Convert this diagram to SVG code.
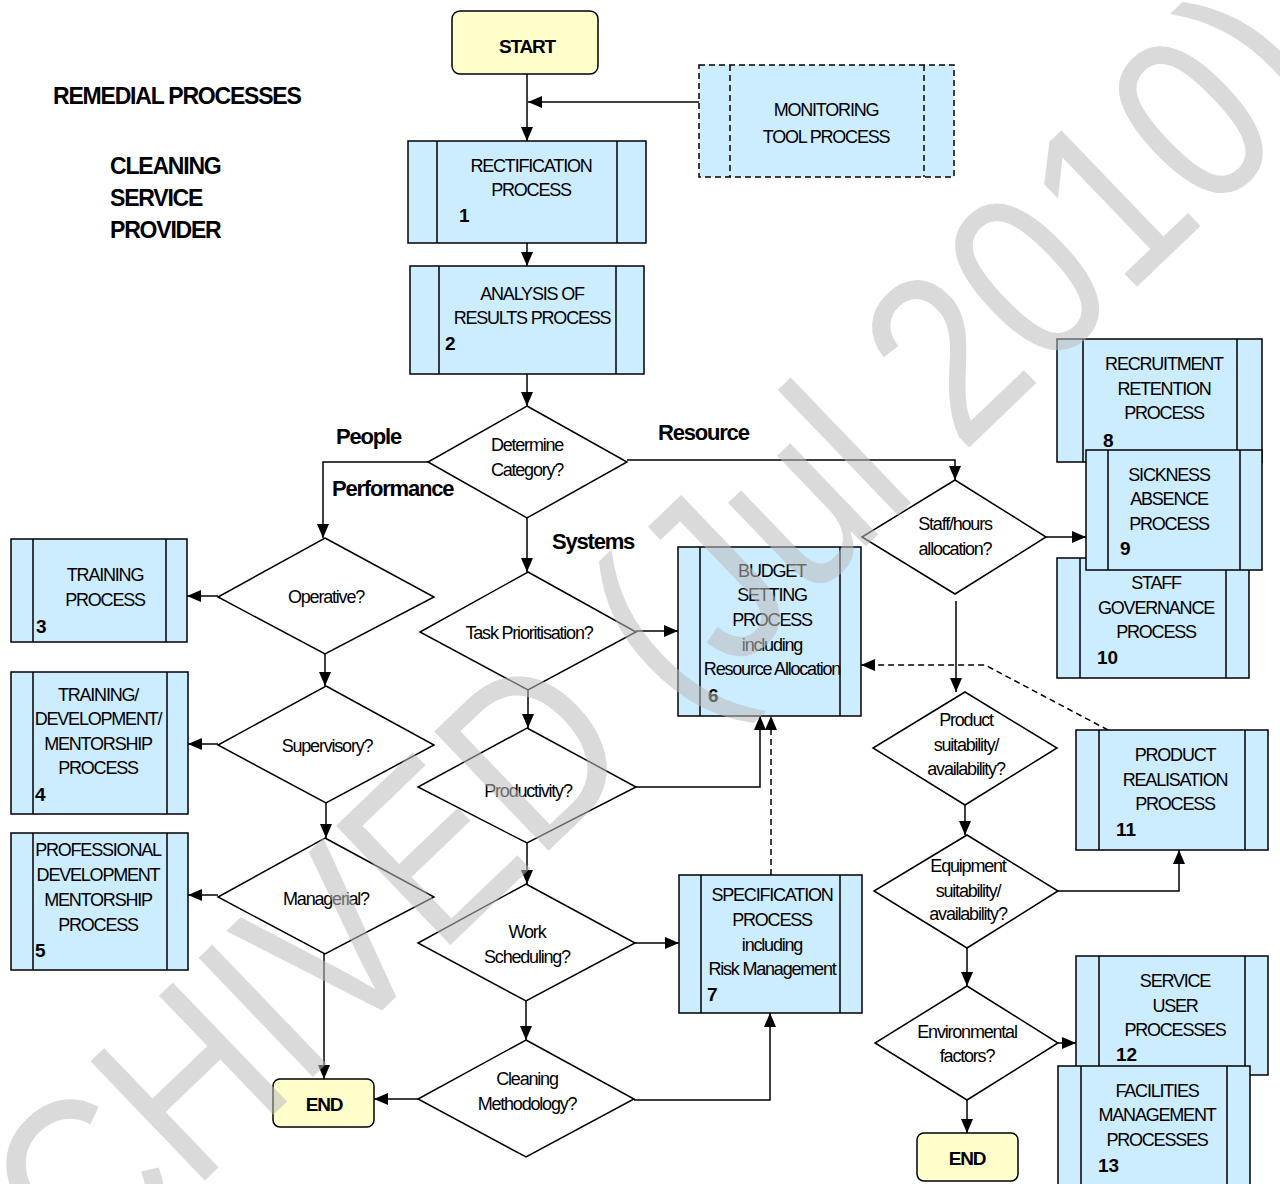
<svg xmlns="http://www.w3.org/2000/svg" width="1280" height="1184" viewBox="0 0 1280 1184">
<style>
.box{fill:#CCECFF;stroke:#000;stroke-width:1.5}
.term{fill:#FFFFCC;stroke:#000;stroke-width:1.5}
.dia{fill:#fff;stroke:#000;stroke-width:1.5}
.ln{fill:none;stroke:#000;stroke-width:1.5}
.dash{stroke-dasharray:6 4}
text{font-family:"Liberation Sans",Arial,sans-serif;fill:#000}
.t{font-size:18px;letter-spacing:-1.2px;text-anchor:middle}
.n{font-size:19px;font-weight:bold}
.b{font-size:19px;font-weight:bold;letter-spacing:-1.2px;text-anchor:middle}
.lbl{font-size:22px;font-weight:bold;letter-spacing:-1.2px}
.ttl{font-size:23px;font-weight:bold;letter-spacing:-1.2px}
.c{fill:none;stroke:#000;stroke-width:1.5;marker-end:url(#ah)}
</style>
<defs>
<marker id="ah" viewBox="0 0 14 12" refX="14" refY="6" markerWidth="14" markerHeight="12" orient="auto" markerUnits="userSpaceOnUse"><path d="M0,0 L14,6 L0,12 z" fill="#000"/></marker>
</defs>
<rect width="1280" height="1184" fill="#fff"/>

<g id="title">
<text class="ttl" x="53" y="104">REMEDIAL PROCESSES</text>
<text class="ttl" x="110" y="174">CLEANING</text>
<text class="ttl" x="110" y="206">SERVICE</text>
<text class="ttl" x="110" y="238">PROVIDER</text>
</g>

<g id="connectors">
<path class="c" d="M527,74 V141"/>
<path class="c" d="M699,102 H528"/>
<path class="c" d="M527,243 V266"/>
<path class="c" d="M527,374 V406"/>
<path class="c" d="M428,462 H323 V538"/>
<path class="c" d="M627,460 H955 V480"/>
<path class="c" d="M527,518 V572"/>
<path class="c" d="M218,596 H187"/>
<path class="c" d="M325,654 V686"/>
<path class="c" d="M218,744 H188"/>
<path class="c" d="M326,803 V838"/>
<path class="c" d="M218,895 H188"/>
<path class="c" d="M324,954 V1079"/>
<path class="c" d="M636,631 H678"/>
<path class="c" d="M528,690 V728"/>
<path class="c" d="M636,787 H760 V716"/>
<path class="c dash" d="M771,875 V716"/>
<path class="c" d="M527,843 V884"/>
<path class="c" d="M635,943 H679"/>
<path class="c" d="M526,1001 V1040"/>
<path class="c" d="M418,1099 H374"/>
<path class="c" d="M634,1100 H770 V1013"/>
<path class="c" d="M1046,537 H1086"/>
<path class="c" d="M956,601 V692"/>
<path class="c" d="M965,805 V835"/>
<path class="c" d="M1058,891 H1179 V850"/>
<path class="c dash" d="M1108,730 L985,665 H861"/>
<path class="c" d="M967,948 V986"/>
<path class="c" d="M1058,1043 H1076"/>
<path class="c" d="M967,1100 V1133"/>
<text class="lbl" x="336" y="444">People</text>
<text class="lbl" x="332" y="496">Performance</text>
<text class="lbl" x="658" y="440">Resource</text>
<text class="lbl" x="552" y="549">Systems</text>
</g>

<g id="start">
<rect class="term" x="452" y="11" width="146" height="63" rx="8"/>
<text class="b" x="527" y="53" font-size="18">START</text>
</g>

<g id="monitoring">
<rect class="box dash" x="699" y="65" width="255" height="112"/>
<path class="ln dash" d="M730,65 V177 M924,65 V177"/>
<text class="t" x="826" y="116">MONITORING</text>
<text class="t" x="826" y="143">TOOL PROCESS</text>
</g>

<g id="p1">
<rect class="box" x="408" y="141" width="238" height="102"/>
<path class="ln" d="M437,141 V243 M617,141 V243"/>
<text class="t" x="531" y="172">RECTIFICATION</text>
<text class="t" x="531" y="196">PROCESS</text>
<text class="n" x="459" y="222">1</text>
</g>

<g id="p2">
<rect class="box" x="410" y="266" width="234" height="108"/>
<path class="ln" d="M439,266 V374 M616,266 V374"/>
<text class="t" x="532" y="300">ANALYSIS OF</text>
<text class="t" x="532" y="324">RESULTS PROCESS</text>
<text class="n" x="445" y="350">2</text>
</g>

<g id="determine">
<polygon class="dia" points="527,406 627,462 527,518 428,462"/>
<text class="t" x="527" y="451">Determine</text>
<text class="t" x="527" y="476">Category?</text>
</g>

<g id="operative">
<polygon class="dia" points="325,538 434,597 325,654 218,597"/>
<text class="t" x="326" y="603">Operative?</text>
</g>
<g id="supervisory">
<polygon class="dia" points="326,686 434,745 326,803 218,745"/>
<text class="t" x="327" y="752">Supervisory?</text>
</g>
<g id="managerial">
<polygon class="dia" points="325,838 434,897 325,954 218,897"/>
<text class="t" x="326" y="905">Managerial?</text>
</g>

<g id="p3">
<rect class="box" x="11" y="539" width="176" height="103"/>
<path class="ln" d="M33,539 V642 M166,539 V642"/>
<text class="t" x="105" y="581">TRAINING</text>
<text class="t" x="105" y="606">PROCESS</text>
<text class="n" x="36" y="633">3</text>
</g>
<g id="p4">
<rect class="box" x="11" y="672" width="177" height="142"/>
<path class="ln" d="M33,672 V814 M167,672 V814"/>
<text class="t" x="98" y="701">TRAINING/</text>
<text class="t" x="98" y="725">DEVELOPMENT/</text>
<text class="t" x="98" y="750">MENTORSHIP</text>
<text class="t" x="98" y="774">PROCESS</text>
<text class="n" x="35" y="801">4</text>
</g>
<g id="p5">
<rect class="box" x="11" y="833" width="177" height="137"/>
<path class="ln" d="M33,833 V970 M167,833 V970"/>
<text class="t" x="98" y="856">PROFESSIONAL</text>
<text class="t" x="98" y="881">DEVELOPMENT</text>
<text class="t" x="98" y="906">MENTORSHIP</text>
<text class="t" x="98" y="931">PROCESS</text>
<text class="n" x="35" y="957">5</text>
</g>

<g id="end1">
<rect class="term" x="273" y="1079" width="101" height="48" rx="7"/>
<text class="b" x="324" y="1111">END</text>
</g>

<g id="task">
<polygon class="dia" points="528,572 636,632 528,690 420,632"/>
<text class="t" x="529" y="639">Task Prioritisation?</text>
</g>
<g id="productivity">
<polygon class="dia" points="527,728 636,787 527,843 418,787"/>
<text class="t" x="528" y="797">Productivity?</text>
</g>
<g id="work">
<polygon class="dia" points="526,884 635,943 526,1001 418,943"/>
<text class="t" x="527" y="938">Work</text>
<text class="t" x="527" y="963">Scheduling?</text>
</g>
<g id="cleaning">
<polygon class="dia" points="526,1040 634,1099 526,1157 418,1099"/>
<text class="t" x="527" y="1085">Cleaning</text>
<text class="t" x="527" y="1110">Methodology?</text>
</g>

<g id="p6">
<rect class="box" x="678" y="547" width="183" height="169"/>
<path class="ln" d="M700,547 V716 M840,547 V716"/>
<text class="t" x="772" y="577">BUDGET</text>
<text class="t" x="772" y="601">SETTING</text>
<text class="t" x="772" y="626">PROCESS</text>
<text class="t" x="772" y="651">including</text>
<text class="t" x="772" y="675">Resource Allocation</text>
<text class="n" x="708" y="702">6</text>
</g>
<g id="p7">
<rect class="box" x="679" y="875" width="183" height="138"/>
<path class="ln" d="M701,875 V1013 M840,875 V1013"/>
<text class="t" x="772" y="901">SPECIFICATION</text>
<text class="t" x="772" y="926">PROCESS</text>
<text class="t" x="772" y="951">including</text>
<text class="t" x="772" y="975">Risk Management</text>
<text class="n" x="707" y="1001">7</text>
</g>

<g id="staff">
<polygon class="dia" points="955,480 1046,537 955,594 862,537"/>
<text class="t" x="955" y="530">Staff/hours</text>
<text class="t" x="955" y="555">allocation?</text>
</g>
<g id="p8">
<rect class="box" x="1057" y="339" width="205" height="123"/>
<path class="ln" d="M1083,339 V462 M1237,339 V462"/>
<text class="t" x="1164" y="370">RECRUITMENT</text>
<text class="t" x="1164" y="395">RETENTION</text>
<text class="t" x="1164" y="419">PROCESS</text>
<text class="n" x="1103" y="447">8</text>
</g>
<g id="p10">
<rect class="box" x="1057" y="558" width="192" height="120"/>
<path class="ln" d="M1080,558 V678 M1226,558 V678"/>
<text class="t" x="1156" y="589">STAFF</text>
<text class="t" x="1156" y="614">GOVERNANCE</text>
<text class="t" x="1156" y="638">PROCESS</text>
<text class="n" x="1097" y="664">10</text>
</g>
<g id="p9">
<rect class="box" x="1086" y="450" width="176" height="120"/>
<path class="ln" d="M1108,450 V570 M1240,450 V570"/>
<text class="t" x="1169" y="481">SICKNESS</text>
<text class="t" x="1169" y="505">ABSENCE</text>
<text class="t" x="1169" y="530">PROCESS</text>
<text class="n" x="1120" y="555">9</text>
</g>

<g id="product">
<polygon class="dia" points="965,692 1057,748 965,805 873,748"/>
<text class="t" x="966" y="726">Product</text>
<text class="t" x="966" y="751">suitability/</text>
<text class="t" x="966" y="775">availability?</text>
</g>
<g id="equipment">
<polygon class="dia" points="967,835 1058,891 967,948 874,891"/>
<text class="t" x="968" y="872">Equipment</text>
<text class="t" x="968" y="897">suitability/</text>
<text class="t" x="968" y="920">availability?</text>
</g>
<g id="environmental">
<polygon class="dia" points="967,986 1058,1043 967,1100 875,1043"/>
<text class="t" x="967" y="1038">Environmental</text>
<text class="t" x="967" y="1062">factors?</text>
</g>

<g id="p11">
<rect class="box" x="1076" y="730" width="192" height="120"/>
<path class="ln" d="M1099,730 V850 M1245,730 V850"/>
<text class="t" x="1175" y="761">PRODUCT</text>
<text class="t" x="1175" y="786">REALISATION</text>
<text class="t" x="1175" y="810">PROCESS</text>
<text class="n" x="1116" y="836">11</text>
</g>
<g id="p12">
<rect class="box" x="1076" y="956" width="192" height="119"/>
<path class="ln" d="M1099,956 V1075 M1245,956 V1075"/>
<text class="t" x="1175" y="987">SERVICE</text>
<text class="t" x="1175" y="1012">USER</text>
<text class="t" x="1175" y="1036">PROCESSES</text>
<text class="n" x="1116" y="1061">12</text>
</g>
<g id="p13">
<rect class="box" x="1058" y="1066" width="192" height="124"/>
<path class="ln" d="M1081,1066 V1190 M1227,1066 V1190"/>
<text class="t" x="1157" y="1097">FACILITIES</text>
<text class="t" x="1157" y="1121">MANAGEMENT</text>
<text class="t" x="1157" y="1146">PROCESSES</text>
<text class="n" x="1098" y="1172">13</text>
</g>

<g id="end2">
<rect class="term" x="917" y="1133" width="101" height="48" rx="7"/>
<text class="b" x="967" y="1165">END</text>
</g>

<g id="watermark" opacity="0.55">
<text x="0" y="0" transform="translate(-118,1490) rotate(-43.8) scale(0.85,1)" style="font-size:240px;fill:#bcbcbc">ARCHIVED (Jul 2010)</text>
</g>
</svg>
